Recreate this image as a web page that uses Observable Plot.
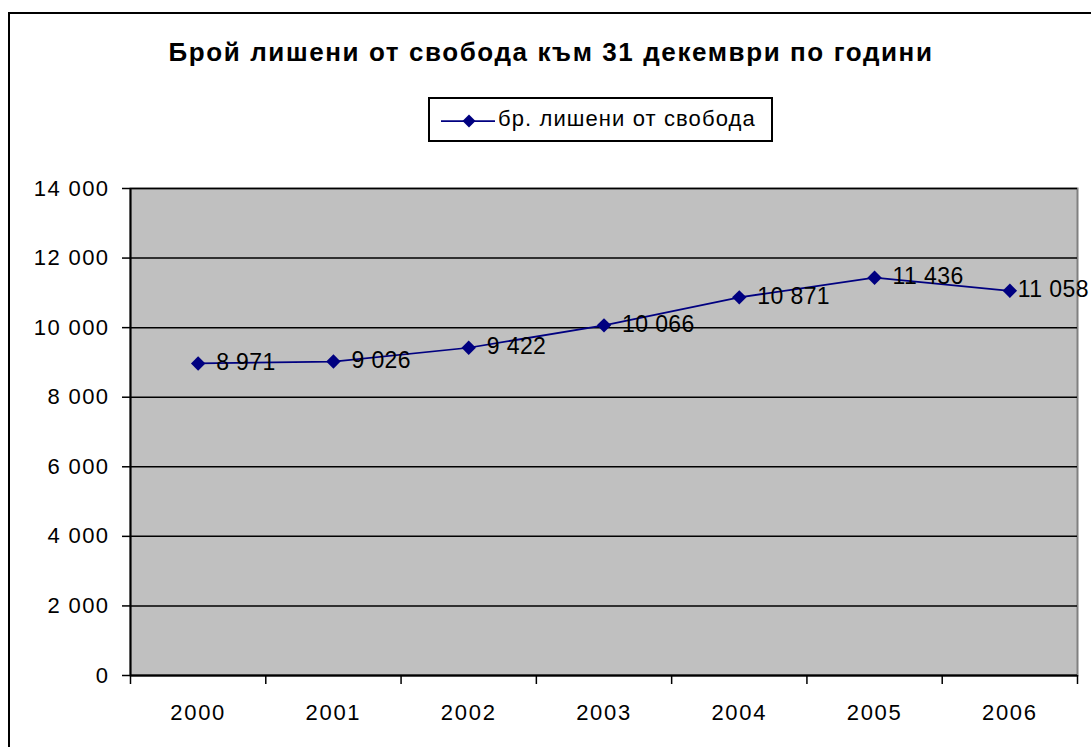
<!DOCTYPE html>
<html>
<head>
<meta charset="utf-8">
<script src="https://cdn.jsdelivr.net/npm/d3@7"></script>
<script src="https://cdn.jsdelivr.net/npm/@observablehq/plot@0.6"></script>
<style>
  html, body { margin: 0; padding: 0; background: #fff; }
  #wrap { position: relative; width: 1091px; height: 747px; overflow: hidden; font-family: Arial, "Liberation Sans", sans-serif; }
  #frame { position: absolute; left: 8px; top: 12px; width: 1200px; height: 900px; border: 2px solid #000; box-sizing: border-box; }
  #title { position: absolute; left: 0; width: 1102px; top: 37px; line-height: 30px; text-align: center; font-weight: bold; font-size: 26px; letter-spacing: 1.6px; color: #000; white-space: nowrap; }
  #legend { position: absolute; left: 428px; top: 97px; width: 345px; height: 45px; border: 2px solid #000; box-sizing: border-box; background: #fff; }
  #legend svg { position: absolute; left: 9px; top: 15px; }
  #legend span { position: absolute; left: 68px; top: 7px; font-size: 22px; letter-spacing: 1.1px; color: #000; white-space: nowrap; }
  #chart { position: absolute; left: 0; top: 0; }
  #chart svg g[aria-label="y-axis tick label"] text { letter-spacing: 1.4px; }
  #chart svg g[aria-label="x-axis tick label"] text { letter-spacing: 1.7px; }
  #chart svg g[aria-label="text"] text { letter-spacing: 0.4px; }
</style>
</head>
<body>
<div id="wrap">
  <div id="frame"></div>
  <div id="chart"></div>
  <div id="title">Брой лишени от свобода към 31 декември по години</div>
  <div id="legend">
    <svg width="56" height="14"><line x1="2" y1="7" x2="56" y2="7" stroke="#000080" stroke-width="1.75"/><path d="M30,0.5L36.5,7L30,13.5L23.5,7Z" fill="#000080"/></svg>
    <span id="legendText"></span>
  </div>
</div>
<script>
const years = [2000, 2001, 2002, 2003, 2004, 2005, 2006];
const values = [8971, 9026, 9422, 10066, 10871, 11436, 11058];
const yTicks = [0, 2000, 4000, 6000, 8000, 10000, 12000, 14000];
const seriesName = "бр. лишени от свобода";

document.getElementById("legendText").textContent = seriesName;

const data = years.map((y, i) => ({year: y, value: values[i]}));
const boundaries = [years[0] - 0.5, ...years.map(y => y + 0.5)];
const fmt = d3.formatLocale({decimal: ",", thousands: " ", grouping: [3], currency: ["", ""]}).format(",");

const chart = Plot.plot({
  width: 1091,
  height: 747,
  marginLeft: 130,
  marginRight: 14,
  marginTop: 188,
  marginBottom: 72,
  style: {fontFamily: "Arial, 'Liberation Sans', sans-serif", fontSize: "22px", color: "#000", background: "transparent", overflow: "visible"},
  x: {type: "linear", domain: [boundaries[0], boundaries[boundaries.length - 1]]},
  y: {domain: [0, 14000]},
  marks: [
    Plot.frame({fill: "#c0c0c0", stroke: "#808080", strokeWidth: 2}),
    Plot.gridY(yTicks, {stroke: "#000", strokeOpacity: 1, strokeWidth: 1.5}),
    Plot.ruleX([boundaries[0]], {stroke: "#000", strokeWidth: 2}),
    Plot.ruleY([0], {stroke: "#000", strokeWidth: 2}),
    Plot.axisY({ticks: yTicks, tickSize: 8, tickPadding: 13, tickFormat: fmt, fontSize: 22, label: null, strokeWidth: 1.5}),
    Plot.axisX({ticks: boundaries, tickSize: 9, tickFormat: () => "", label: null, strokeWidth: 1.5}),
    Plot.axisX({ticks: years, tickSize: 0, tickPadding: 29, tickFormat: d => String(d), fontSize: 22, label: null}),
    Plot.line(data, {x: "year", y: "value", stroke: "#000080", strokeWidth: 1.75}),
    Plot.dot(data, {x: "year", y: "value", symbol: "diamond2", r: 6.5, fill: "#000080", stroke: "none"}),
    Plot.text(data.slice(0, -1), {x: "year", y: "value", text: d => fmt(d.value), textAnchor: "start", dx: 18, dy: -1, fontSize: 23, fill: "#000"}),
    Plot.text(data.slice(-1), {x: "year", y: "value", text: d => fmt(d.value), textAnchor: "start", dx: 8, dy: -1, fontSize: 23, fill: "#000"})
  ]
});
document.getElementById("chart").appendChild(chart);
</script>
</body>
</html>
